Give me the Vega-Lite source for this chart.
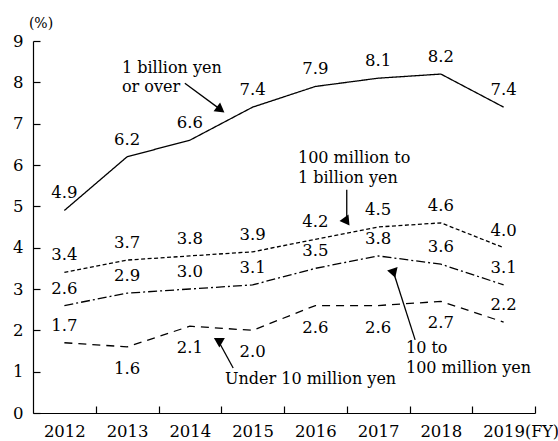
{
  "$schema": "https://vega.github.io/schema/vega-lite/v6.json",
  "width": 502,
  "height": 372,
  "autosize": {"type": "none"},
  "padding": {"left": 33, "top": 41, "right": 23, "bottom": 28},
  "background": "white",
  "config": {
    "view": {"stroke": null},
    "font": "DejaVu Serif",
    "axis": {
      "domainColor": "black",
      "tickColor": "black",
      "labelColor": "black",
      "titleColor": "black",
      "labelFont": "DejaVu Serif",
      "titleFont": "DejaVu Serif",
      "domainWidth": 1.2,
      "tickWidth": 1.2,
      "grid": false
    }
  },
  "datasets": {
    "series": [
      {"series": "1 billion yen or over", "year": 2012, "value": 4.9},
      {"series": "1 billion yen or over", "year": 2013, "value": 6.2},
      {"series": "1 billion yen or over", "year": 2014, "value": 6.6},
      {"series": "1 billion yen or over", "year": 2015, "value": 7.4},
      {"series": "1 billion yen or over", "year": 2016, "value": 7.9},
      {"series": "1 billion yen or over", "year": 2017, "value": 8.1},
      {"series": "1 billion yen or over", "year": 2018, "value": 8.2},
      {"series": "1 billion yen or over", "year": 2019, "value": 7.4},
      {"series": "100 million to 1 billion yen", "year": 2012, "value": 3.4},
      {"series": "100 million to 1 billion yen", "year": 2013, "value": 3.7},
      {"series": "100 million to 1 billion yen", "year": 2014, "value": 3.8},
      {"series": "100 million to 1 billion yen", "year": 2015, "value": 3.9},
      {"series": "100 million to 1 billion yen", "year": 2016, "value": 4.2},
      {"series": "100 million to 1 billion yen", "year": 2017, "value": 4.5},
      {"series": "100 million to 1 billion yen", "year": 2018, "value": 4.6},
      {"series": "100 million to 1 billion yen", "year": 2019, "value": 4.0},
      {"series": "10 to 100 million yen", "year": 2012, "value": 2.6},
      {"series": "10 to 100 million yen", "year": 2013, "value": 2.9},
      {"series": "10 to 100 million yen", "year": 2014, "value": 3.0},
      {"series": "10 to 100 million yen", "year": 2015, "value": 3.1},
      {"series": "10 to 100 million yen", "year": 2016, "value": 3.5},
      {"series": "10 to 100 million yen", "year": 2017, "value": 3.8},
      {"series": "10 to 100 million yen", "year": 2018, "value": 3.6},
      {"series": "10 to 100 million yen", "year": 2019, "value": 3.1},
      {"series": "Under 10 million yen", "year": 2012, "value": 1.7},
      {"series": "Under 10 million yen", "year": 2013, "value": 1.6},
      {"series": "Under 10 million yen", "year": 2014, "value": 2.1},
      {"series": "Under 10 million yen", "year": 2015, "value": 2.0},
      {"series": "Under 10 million yen", "year": 2016, "value": 2.6},
      {"series": "Under 10 million yen", "year": 2017, "value": 2.6},
      {"series": "Under 10 million yen", "year": 2018, "value": 2.7},
      {"series": "Under 10 million yen", "year": 2019, "value": 2.2}
    ],
    "arrows": [
      {"arrow": "a1", "x": 2013.92, "y": 7.98, "x2": 2014.49, "y2": 7.34},
      {"arrow": "a2", "x": 2016.5, "y": 5.40, "x2": 2016.5, "y2": 4.63},
      {"arrow": "a3", "x": 2017.59, "y": 1.77, "x2": 2017.25, "y2": 3.38},
      {"arrow": "a4", "x": 2014.69, "y": 1.09, "x2": 2014.47, "y2": 1.70}
    ],
    "notes": [
      {"text": "1 billion yen", "x": 2012.918, "y": 8.347},
      {"text": "or over", "x": 2012.918, "y": 7.888},
      {"text": "100 million to", "x": 2015.723, "y": 6.17},
      {"text": "1 billion yen", "x": 2015.723, "y": 5.686},
      {"text": "10 to", "x": 2017.444, "y": 1.573},
      {"text": "100 million yen", "x": 2017.444, "y": 1.089},
      {"text": "Under 10 million yen", "x": 2014.56, "y": 0.823},
      {"text": "(FY)", "x": 2019.34, "y": -0.46}
    ]
  },
  "layer": [
    {
      "data": {"name": "series"},
      "mark": {"type": "line", "color": "black", "strokeWidth": 1.3},
      "encoding": {
        "x": {
          "field": "year", "type": "quantitative",
          "scale": {"domain": [2011.5, 2019.5], "nice": false, "zero": false},
          "axis": {
            "values": [2012, 2013, 2014, 2015, 2016, 2017, 2018, 2019],
            "format": "d",
            "title": null,
            "tickSize": -7,
            "tickOffset": 31.375,
            "labelOffset": -31.375,
            "labelFlush": false,
            "labelOverlap": false,
            "labelFontSize": 16.5,
            "labelPadding": 17
          }
        },
        "y": {
          "field": "value", "type": "quantitative",
          "scale": {"domain": [0, 9], "nice": false},
          "axis": {
            "values": [0, 1, 2, 3, 4, 5, 6, 7, 8, 9],
            "title": "(%)",
            "titleAngle": 0,
            "titleAlign": "center",
            "titleBaseline": "middle",
            "titleX": 7.5,
            "titleY": -18,
            "titleFontSize": 14,
            "titleFontWeight": "normal",
            "tickSize": -7,
            "labelFontSize": 16.5,
            "labelPadding": 17
          }
        },
        "detail": {"field": "series"},
        "strokeDash": {
          "field": "series", "type": "nominal",
          "scale": {
            "domain": ["1 billion yen or over", "100 million to 1 billion yen", "10 to 100 million yen", "Under 10 million yen"],
            "range": [[1, 0], [4, 2.5], [9, 3, 2, 3], [8, 6]]
          },
          "legend": null
        }
      }
    },
    {
      "data": {"name": "series"},
      "transform": [
        {"filter": "!(datum.series == 'Under 10 million yen' && datum.year >= 2013 && datum.year <= 2018)"}
      ],
      "mark": {"type": "text", "fontSize": 16.5, "baseline": "alphabetic", "dy": -12, "color": "black"},
      "encoding": {
        "x": {"field": "year", "type": "quantitative"},
        "y": {"field": "value", "type": "quantitative"},
        "text": {"field": "value", "type": "quantitative", "format": ".1f"}
      }
    },
    {
      "data": {"name": "series"},
      "transform": [
        {"filter": "datum.series == 'Under 10 million yen' && datum.year >= 2013 && datum.year <= 2018"}
      ],
      "mark": {"type": "text", "fontSize": 16.5, "baseline": "top", "dy": 14, "color": "black"},
      "encoding": {
        "x": {"field": "year", "type": "quantitative"},
        "y": {"field": "value", "type": "quantitative"},
        "text": {"field": "value", "type": "quantitative", "format": ".1f"}
      }
    },
    {
      "data": {"name": "arrows"},
      "mark": {"type": "rule", "color": "black", "strokeWidth": 1.3},
      "encoding": {
        "x": {"field": "x", "type": "quantitative"},
        "y": {"field": "y", "type": "quantitative"},
        "x2": {"field": "x2"},
        "y2": {"field": "y2"}
      }
    },
    {
      "data": {"name": "arrows"},
      "mark": {"type": "point", "shape": "triangle-up", "filled": true, "color": "black", "opacity": 1, "size": 120},
      "encoding": {
        "x": {"field": "x2", "type": "quantitative"},
        "y": {"field": "y2", "type": "quantitative"},
        "angle": {
          "field": "arrow", "type": "nominal",
          "scale": {"domain": ["a1", "a2", "a3", "a4"], "range": [126.9, 180, 342.3, 331.9]},
          "legend": null
        }
      }
    },
    {
      "data": {"name": "notes"},
      "mark": {"type": "text", "align": "left", "baseline": "middle", "fontSize": 16, "color": "black"},
      "encoding": {
        "x": {"field": "x", "type": "quantitative"},
        "y": {"field": "y", "type": "quantitative"},
        "text": {"field": "text"}
      }
    }
  ]
}
